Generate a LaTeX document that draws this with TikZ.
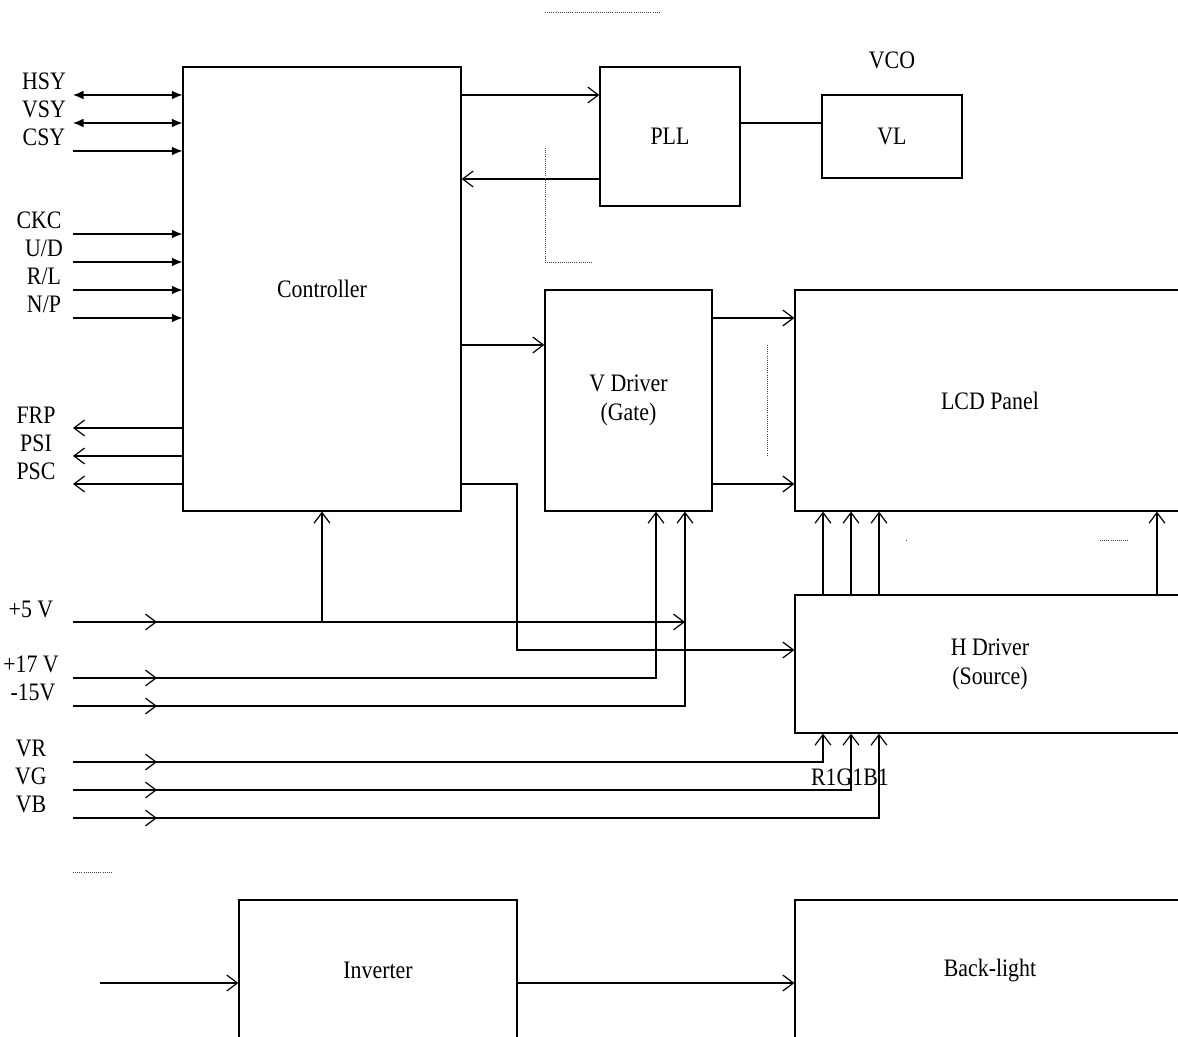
\documentclass[tikz,border=0pt]{standalone}
\usepackage{fontspec}
\setmainfont{Liberation Serif}[FakeStretch=0.87]
\usetikzlibrary{arrows.meta}

\tikzset{
  blk/.style={draw, line width=0.7pt, inner sep=0pt, align=center, font=\fontsize{14.3}{16.6}\selectfont},
  lbl/.style={inner sep=0pt, font=\fontsize{14.3}{17}\selectfont},
  sig/.style={line width=0.7pt, -{Straight Barb[length=6pt,width=9pt]}},
  bus/.style={line width=0.7pt, -{Latex[length=6pt,width=5pt]}},
  bibus/.style={line width=0.7pt, {Latex[length=6pt,width=5pt]}-{Latex[length=6pt,width=5pt]}},
  wire/.style={line width=0.7pt},
  guide/.style={line width=0.45pt, dash pattern=on 0.45pt off 0.75pt, black!75}
}

\begin{document}
\begin{tikzpicture}[x=0.02cm, y=-0.02cm]
\useasboundingbox (0,0) rectangle (1178,1037);
\clip (0,0) rectangle (1178,1037);

% Blocks
\node[blk, minimum width=5.56cm, minimum height=8.88cm] (ctrl) at (322,289) {Controller};
\node[blk, minimum width=2.8cm, minimum height=2.78cm] (pll) at (670,136.5) {PLL};
\node[blk, minimum width=2.8cm, minimum height=1.66cm] (vl) at (892,136.5) {VL};
\node[blk, minimum width=3.34cm, minimum height=4.42cm] (vdrv) at (628.5,400.5) {V Driver\\(Gate)};
\node[blk, minimum width=7.8cm, minimum height=4.42cm] (lcd) at (990,400.5) {LCD Panel};
\node[blk, minimum width=7.8cm, minimum height=2.76cm] (hdrv) at (990,664) {H Driver\\(Source)};
\node[blk, minimum width=5.56cm, minimum height=2.8cm] (inv) at (378,970) {Inverter};
\node[blk, minimum width=7.8cm, minimum height=2.8cm] (bl) at (990,970) {Back-light};

% Labels
\node[lbl] (vco) at (892,60) {VCO};
\node[lbl] (hsy) at (44,81) {HSY};
\node[lbl] (vsy) at (44,109) {VSY};
\node[lbl] (csy) at (44,137) {CSY};
\node[lbl] (ckc) at (39,220) {CKC};
\node[lbl] (ud) at (44,248) {U/D};
\node[lbl] (rl) at (44,276) {R/L};
\node[lbl] (np) at (44,304) {N/P};
\node[lbl] (frp) at (36,415) {FRP};
\node[lbl] (psi) at (36,443) {PSI};
\node[lbl] (psc) at (36,471) {PSC};
\node[lbl] (p5) at (31,609) {+5 V};
\node[lbl] (p17) at (31,664) {+17 V};
\node[lbl] (m15) at (33,692) {-15V};
\node[lbl] (vr) at (31,748) {VR};
\node[lbl] (vg) at (31,776) {VG};
\node[lbl] (vb) at (31,804) {VB};
\node[lbl] (rgb) at (850,777) {R1G1B1};

% Line ends
\coordinate (hsyin) at (73,95);
\coordinate (vsyin) at (73,123);
\coordinate (csyin) at (73,151);
\coordinate (ckcin) at (73,234);
\coordinate (udin) at (73,262);
\coordinate (rlin) at (73,290);
\coordinate (npin) at (73,318);
\coordinate (frpout) at (73,428);
\coordinate (psiout) at (73,456);
\coordinate (pscout) at (73,484);
\coordinate (p5in) at (73,622);
\coordinate (p17in) at (73,678);
\coordinate (m15in) at (73,706);
\coordinate (vrin) at (73,762);
\coordinate (vgin) at (73,790);
\coordinate (vbin) at (73,818);
\coordinate (invin) at (100,983);
\coordinate (p17pin) at (vdrv.south -| 656,0);
\coordinate (m15pin) at (vdrv.south -| 685,0);

% Controller I/O
\draw[bibus] (hsyin) -- (ctrl.west |- hsyin);
\draw[bibus] (vsyin) -- (ctrl.west |- vsyin);
\draw[bus] (csyin) -- (ctrl.west |- csyin);
\draw[bus] (ckcin) -- (ctrl.west |- ckcin);
\draw[bus] (udin) -- (ctrl.west |- udin);
\draw[bus] (rlin) -- (ctrl.west |- rlin);
\draw[bus] (npin) -- (ctrl.west |- npin);
\draw[sig] (ctrl.west |- frpout) -- (frpout);
\draw[sig] (ctrl.west |- psiout) -- (psiout);
\draw[sig] (ctrl.west |- pscout) -- (pscout);

% PLL loop
\draw[sig] (ctrl.east |- 0,95) -- (pll.west |- 0,95);
\draw[sig] (pll.west |- 0,179) -- (ctrl.east |- 0,179);
\draw[wire] (pll.east |- 0,123) -- (vl.west |- 0,123);

% Drivers
\draw[sig] (ctrl.east |- 0,345) -- (vdrv.west |- 0,345);
\draw[sig] (vdrv.east |- 0,318) -- (lcd.west |- 0,318);
\draw[sig] (vdrv.east |- 0,484) -- (lcd.west |- 0,484);
\draw[sig] (ctrl.east |- 0,484) -- (517,484) |- (hdrv.west |- 0,650);
\draw[sig] (hdrv.north -| 823,0) -- (lcd.south -| 823,0);
\draw[sig] (hdrv.north -| 851,0) -- (lcd.south -| 851,0);
\draw[sig] (hdrv.north -| 879,0) -- (lcd.south -| 879,0);
\draw[sig] (hdrv.north -| 1157,0) -- (lcd.south -| 1157,0);

% Power
\draw[sig] (p5in) -- ++(84,0);
\draw[sig] (p5in) -- (m15pin |- p5in);
\draw[sig] (ctrl.south |- p5in) -- (ctrl.south);
\draw[sig] (p17in) -- ++(84,0);
\draw[sig] (p17in) -| (p17pin);
\draw[sig] (m15in) -- ++(84,0);
\draw[sig] (m15in) -| (m15pin);

% Video
\draw[sig] (vrin) -- ++(84,0);
\draw[sig] (vrin) -| (hdrv.south -| 823,0);
\draw[sig] (vgin) -- ++(84,0);
\draw[sig] (vgin) -| (hdrv.south -| 851,0);
\draw[sig] (vbin) -- ++(84,0);
\draw[sig] (vbin) -| (hdrv.south -| 879,0);

% Backlight
\draw[sig] (invin) -- (inv.west |- invin);
\draw[sig] (inv.east |- invin) -- (bl.west |- invin);

% Dotted marks
\draw[guide] (545,12) -- (659,12);
\draw[guide] (545,148) -- (545,262) -- (593,262);
\draw[guide] (767,345) -- (767,455);
\draw[guide] (906,540) -- (907,540);
\draw[guide] (1100,540) -- (1128,540);
\draw[guide] (73,872) -- (111,872);

\end{tikzpicture}
\end{document}
